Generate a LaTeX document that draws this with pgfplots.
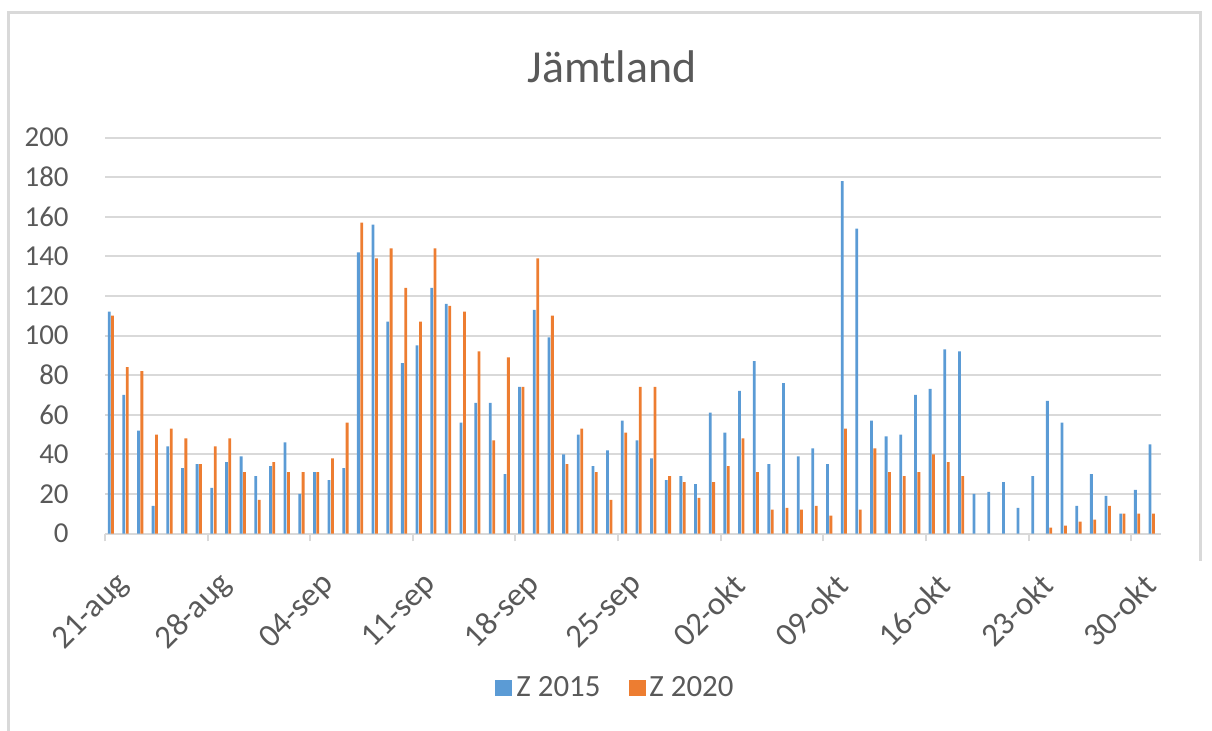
\documentclass[border=0pt]{standalone}
\usepackage{fontspec}
\setmainfont{Carlito}
\usepackage{pgfplots}
\usepackage{pgfplotstable}
\pgfplotsset{compat=1.18}
\definecolor{zblue}{HTML}{5B9BD5}
\definecolor{zorange}{HTML}{ED7D31}
\definecolor{gridgray}{HTML}{D9D9D9}
\definecolor{txtgray}{HTML}{595959}

\pgfplotstableread{
d a b
0 112 110
1 70 84
2 52 82
3 14 50
4 44 53
5 33 48
6 35 35
7 23 44
8 36 48
9 39 31
10 29 17
11 34 36
12 46 31
13 20 31
14 31 31
15 27 38
16 33 56
17 142 157
18 156 139
19 107 144
20 86 124
21 95 107
22 124 144
23 116 115
24 56 112
25 66 92
26 66 47
27 30 89
28 74 74
29 113 139
30 99 110
31 40 35
32 50 53
33 34 31
34 42 17
35 57 51
36 47 74
37 38 74
38 27 29
39 29 26
40 25 18
41 61 26
42 51 34
43 72 48
44 87 31
45 35 12
46 76 13
47 39 12
48 43 14
49 35 9
50 178 53
51 154 12
52 57 43
53 49 31
54 50 29
55 70 31
56 73 40
57 93 36
58 92 29
59 20 nan
60 21 nan
61 26 nan
62 13 nan
63 29 nan
64 67 3
65 56 4
66 14 6
67 30 7
68 19 14
69 10 10
70 22 10
71 45 10
}\data

\begin{document}
\begin{tikzpicture}
\useasboundingbox (0,0) rectangle (606bp,365.5bp);
\draw[gridgray, line width=1.5bp] (4.25bp,0) -- (4.25bp,359.25bp) -- (600bp,359.25bp) -- (600bp,85bp);
\node[anchor=base, font=\fontsize{23}{27}\selectfont, text=txtgray] at (306bp,324.15bp) {Jämtland};
\begin{axis}[
  at={(52.5bp,98.75bp)}, anchor=south west,
  scale only axis, width=527.75bp, height=198bp,
  xmin=0, xmax=72, ymin=0, ymax=200,
  enlargelimits=false,
  ytick={0,20,...,200},
  xtick={0,7,...,70},
  xticklabels={21-aug,28-aug,04-sep,11-sep,18-sep,25-sep,02-okt,09-okt,16-okt,23-okt,30-okt},
  axis x line*=bottom, axis y line*=left,
  y axis line style={draw=none},
  x axis line style={draw=gridgray, line width=1bp},
  ytick style={draw=none},
  xtick style={draw=gridgray, line width=1bp},
  tick align=outside, major tick length=4bp,
  ymajorgrids, major grid style={gridgray, line width=1bp},
  ybar=0.3bp, bar width=1.4bp,
  /pgf/number format/assume math mode=true,
  tick label style={text=txtgray, inner sep=0pt},
  yticklabel style={font=\fontsize{14.5}{16}\selectfont, anchor=east, xshift=-14bp},
  xticklabel style={font=\fontsize{16.5}{18}\selectfont, anchor=east, xshift=9.5bp, yshift=-19bp, rotate=45},
  legend style={at={(0.4846,-0.3906)}, anchor=center, draw=none, fill=none,
    legend columns=2, font=\fontsize{15.5}{17}\selectfont, text=txtgray,
    /tikz/every even column/.append style={column sep=12bp}},
  legend image code/.code={\fill[#1, draw=none] (0bp,-4bp) rectangle (8.5bp,4bp);},
]
\addplot[fill=zblue, draw=none] table[x expr=\thisrow{d}+0.4, y=a] {\data};
\addplot[fill=zorange, draw=none] table[x expr=\thisrow{d}+0.4, y=b] {\data};
\legend{Z 2015, Z 2020}
\end{axis}
\end{tikzpicture}
\end{document}
